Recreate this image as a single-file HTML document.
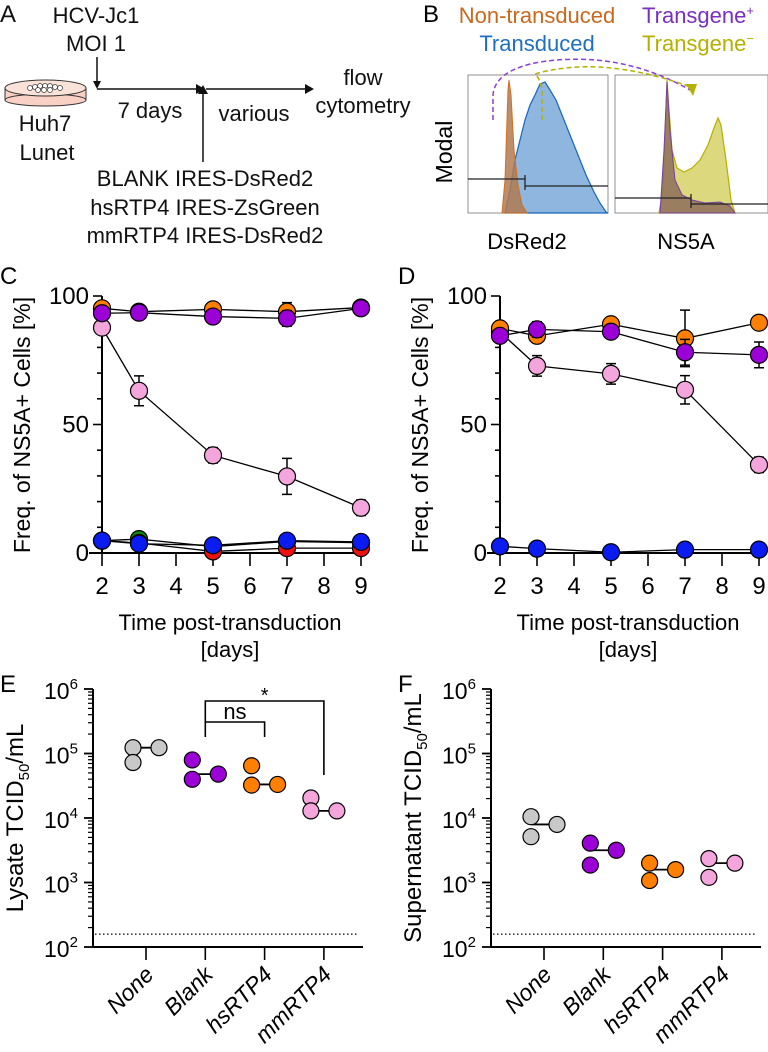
<!DOCTYPE html>
<html><head><meta charset="utf-8">
<style>
html,body{margin:0;padding:0;background:#fff;}
svg{display:block;font-family:"Liberation Sans",Arial,sans-serif;}
</style></head>
<body>
<svg id="fig" width="768" height="1052" viewBox="0 0 768 1052">
<!-- Panel A -->
<g font-size="22" fill="#111">
  <text x="0" y="22" font-size="24">A</text>
  <text x="96" y="23" text-anchor="middle">HCV-Jc1</text>
  <text x="96" y="51" text-anchor="middle">MOI 1</text>
  <line x1="97" y1="57" x2="97" y2="83" stroke="#111" stroke-width="1.5"/>
  <polygon points="93,81 101,81 97,89" fill="#111"/>
  <g>
    <rect x="5" y="88" width="81" height="12" fill="#f8d0c4" stroke="#333" stroke-width="1"/>
    <ellipse cx="45.5" cy="100" rx="40.5" ry="6" fill="#f8d0c4" stroke="#333"/>
    <ellipse cx="45.5" cy="88" rx="40.5" ry="8" fill="#fbe2d8" stroke="#333"/>
    <g fill="#fff" stroke="#333" stroke-width="0.7">
      <circle cx="30" cy="88" r="2.5"/><circle cx="35" cy="87" r="2.5"/><circle cx="40" cy="86" r="2.5"/><circle cx="45" cy="86" r="2.5"/><circle cx="50" cy="86" r="2.5"/><circle cx="55" cy="87" r="2.5"/><circle cx="60" cy="88" r="2.5"/>
      <circle cx="38" cy="90" r="2.5"/><circle cx="44" cy="90" r="2.5"/><circle cx="50" cy="90" r="2.5"/>
    </g>
  </g>
  <line x1="97" y1="89" x2="197" y2="89" stroke="#111" stroke-width="1.5"/>
  <polygon points="196,84 205,89 196,94" fill="#111"/>
  <line x1="206" y1="89" x2="306" y2="89" stroke="#111" stroke-width="1.5"/>
  <polygon points="305,84 314,89 305,94" fill="#111"/>
  <line x1="203" y1="162" x2="203" y2="92" stroke="#111" stroke-width="1.5"/>
  <polygon points="198,94 208,94 203,85" fill="#111"/>
  <text x="150" y="118" text-anchor="middle">7 days</text>
  <text x="254" y="121" text-anchor="middle">various</text>
  <text x="363" y="85" text-anchor="middle">flow</text>
  <text x="363" y="113" text-anchor="middle">cytometry</text>
  <text x="45" y="131" text-anchor="middle">Huh7</text>
  <text x="47" y="160" text-anchor="middle">Lunet</text>
  <text x="205" y="186" text-anchor="middle">BLANK IRES-DsRed2</text>
  <text x="205" y="215" text-anchor="middle">hsRTP4 IRES-ZsGreen</text>
  <text x="205" y="243" text-anchor="middle">mmRTP4 IRES-DsRed2</text>
</g>
<!-- Panel B -->
<g>
  <text x="423" y="22" font-size="24">B</text>
  <text x="537" y="23" font-size="22" text-anchor="middle" fill="#c8691e">Non-transduced</text>
  <text x="537" y="51" font-size="22" text-anchor="middle" fill="#1f6fc0">Transduced</text>
  <text x="698" y="23" font-size="22" text-anchor="middle" fill="#7a2fc0">Transgene<tspan dy="-8" font-size="13">+</tspan></text>
  <text x="698" y="51" font-size="22" text-anchor="middle" fill="#b5b000">Transgene<tspan dy="-8" font-size="13">−</tspan></text>
  <text transform="translate(452,152) rotate(-90)" font-size="23" text-anchor="middle">Modal</text>
  <g>
    <rect x="468" y="75" width="140" height="138" fill="#fff" stroke="#777" stroke-width="0.8"/>
    <path d="M505,213 L510,190 L515,160 L520,140 L525,120 L530,105 L535,95 L540,84 L545,82 L550,90 L556,100 L562,115 L570,135 L578,155 L586,175 L594,192 L600,203 L606,212 L608,213 Z" fill="#8fb6de" stroke="#1565c0" stroke-width="1.2"/>
    <path d="M502,213 L505,180 L508,90 L509,80 L511,95 L514,150 L518,185 L522,205 L527,213 Z" fill="#b07a52" fill-opacity="0.85" stroke="#d07020" stroke-width="1"/>
    <line x1="468" y1="179" x2="525" y2="179" stroke="#222" stroke-width="1.3"/>
    <line x1="525" y1="175" x2="525" y2="190" stroke="#222" stroke-width="1.3"/>
    <line x1="525" y1="186" x2="608" y2="186" stroke="#222" stroke-width="1.3"/>
    <text x="527" y="249" font-size="22" text-anchor="middle">DsRed2</text>
  </g>
  <g>
    <rect x="615" y="75" width="153" height="138" fill="#fff" stroke="#777" stroke-width="0.8"/>
    <path d="M659,213 L663,190 L666,110 L667,80 L669,110 L672,150 L677,168 L684,172 L692,168 L700,160 L708,145 L714,128 L718,118 L721,125 L726,160 L731,200 L735,213 Z" fill="#d8d470" fill-opacity="0.9" stroke="#b5b000" stroke-width="1.2"/>
    <path d="M660,213 L664,150 L667,82 L670,130 L675,180 L682,195 L692,200 L705,203 L720,202 L730,206 L735,213 Z" fill="#8e6e5a" fill-opacity="0.85" stroke="#7a3fa0" stroke-width="1"/>
    <line x1="615" y1="198" x2="691" y2="198" stroke="#222" stroke-width="1.3"/>
    <line x1="691" y1="194" x2="691" y2="208" stroke="#222" stroke-width="1.3"/>
    <line x1="691" y1="204" x2="768" y2="204" stroke="#222" stroke-width="1.3"/>
    <text x="686" y="249" font-size="22" text-anchor="middle">NS5A</text>
  </g>
  <path d="M493,120 L493,95 Q495,70 540,62 Q620,50 690,90" fill="none" stroke="#8a3fd0" stroke-width="1.5" stroke-dasharray="5,3"/>
  <path d="M542,120 L542,90 Q540,78 535,74 Q600,55 688,86" fill="none" stroke="#b5b000" stroke-width="1.5" stroke-dasharray="5,3"/>
  <polygon points="686,84 697,84 693,96" fill="#b5b000"/>
</g>
<g id="charts"></g>
</svg>
<script>
const NS='http://www.w3.org/2000/svg';
const root=document.getElementById('charts');
function mk(tag,attrs,parent,txt){const e=document.createElementNS(NS,tag);for(const k in attrs)e.setAttribute(k,attrs[k]);if(txt!==undefined)e.textContent=txt;(parent||root).appendChild(e);return e;}

// ---------- Time-course data (panels C, D) ----------
const days=[2,3,5,7,9];
const xTicks=[2,3,4,5,6,7,8,9];
const yTicksTC=[0,50,100];
const cOrange=[95.2,93.9,94.8,93.9,95.5];
const cPurple=[93.3,93.5,92.0,91.3,95.2];
const cPink=[87.7,63.1,38.0,29.8,17.6];
const cPinkErr=[1.5,5.8,3.0,7.0,3.0];
const cRed=[4.8,3.9,0.6,1.9,1.9];
const cGreen=[4.8,5.4,2.5,4.5,4.0];
const cBlue=[4.8,3.6,3.0,4.8,4.3];
const dOrange=[87.4,84.5,89.0,83.5,89.6];
const dOrangeErr=[2,2,1,11,1];
const dPurple=[84.5,87.0,86.1,78.1,77.1];
const dPurpleErr=[2,3,2,5,5];
const dPink=[86.0,72.8,69.7,63.5,34.3];
const dPinkErr=[2,4,4,5.5,3];
const dBlue=[2.6,1.7,0.3,1.3,1.3];

function timeCourse(ox,label,series){
  const g=mk('g',{});
  
  
  const x0=ox, x1=ox+259, yTop=296, yBot=553;
  const X=d=>x0+(d-2)/7*(x1-x0);
  const Y=v=>yBot-v/100*(yBot-yTop);
  const pl=mk('text',{x:ox-102,y:284,'font-size':24},g,label);
  
  
  mk('line',{x1:x0,y1:yTop,x2:x0,y2:yBot,stroke:'#000','stroke-width':2},g);
  mk('line',{x1:x0-13,y1:yBot,x2:x1+2,y2:yBot,stroke:'#000','stroke-width':2},g);
  for(let v=0;v<=100;v+=10){mk('line',{x1:x0-(v%50?5:9),y1:Y(v),x2:x0,y2:Y(v),stroke:'#000','stroke-width':1.6},g);}
  yTicksTC.forEach(v=>{const t=mk('text',{x:x0-13,y:Y(v)+8,'font-size':24,'text-anchor':'end'},g,String(v));
    });
  xTicks.forEach(d=>{mk('line',{x1:X(d),y1:yBot,x2:X(d),y2:yBot+13,stroke:'#000','stroke-width':1.6},g);
    const t=mk('text',{x:X(d),y:594,'font-size':24,'text-anchor':'middle'},g,String(d));
    });
  const yt=mk('text',{transform:`translate(${ox-72},425) rotate(-90)`,'font-size':23,'text-anchor':'middle'},g,'Freq. of NS5A+ Cells [%]');
  
  const xt=mk('text',{x:ox+128,y:630,'font-size':22,'text-anchor':'middle'},g,'Time post-transduction');
  
  const xt2=mk('text',{x:ox+128,y:657,'font-size':22,'text-anchor':'middle'},g,'[days]');
  
  series.forEach(s=>{
    const sg=mk('g',{},g);
    
    
    mk('polyline',{points:days.map((d,i)=>X(d)+','+Y(s.v[i])).join(' '),fill:'none',stroke:'#000','stroke-width':1.3},sg);
    if(s.e) days.forEach((d,i)=>{const e=s.e[i];if(e<1)return;
      mk('path',{d:`M${X(d)},${Y(s.v[i]+e)}V${Y(s.v[i]-e)}M${X(d)-5},${Y(s.v[i]+e)}h10M${X(d)-5},${Y(s.v[i]-e)}h10`,stroke:'#000','stroke-width':1.5,fill:'none'},sg);});
    days.forEach((d,i)=>{const c=mk('circle',{cx:X(d),cy:Y(s.v[i]),r:8.5,fill:s.c,stroke:'#000','stroke-width':1.2},sg);
      });
  });
}
timeCourse(102,'C',[
  {name:'green',v:cGreen,c:'#118811'},{name:'red',v:cRed,c:'#ee1111'},{name:'blue',v:cBlue,c:'#0a1cf0'},
  {name:'pink',v:cPink,c:'#f4a6dc',e:cPinkErr},
  {name:'orange',v:cOrange,c:'#ff7f00',e:[1,1,1,3.5,1]},{name:'purple',v:cPurple,c:'#9b00d6',e:[1,1,1,3,1]}]);
timeCourse(500,'D',[
  {name:'blue',v:dBlue,c:'#0a1cf0'},
  {name:'pink',v:dPink,c:'#f4a6dc',e:dPinkErr},
  {name:'orange',v:dOrange,c:'#ff7f00',e:dOrangeErr},{name:'purple',v:dPurple,c:'#9b00d6',e:dPurpleErr}]);

// ---------- TCID50 data (panels E, F), log10 values ----------
const groups=['None','Blank','hsRTP4','mmRTP4'];
const groupColors=['#c8c8c8','#9b00d6','#ff7f00','#f4a6dc'];
const lysateLog=[[5.09,4.86,5.09],[4.90,4.60,4.68],[4.81,4.51,4.52],[4.31,4.11,4.11]];
const lysateMedianLog=[5.09,4.68,4.52,4.11];
const superLog=[[4.02,3.71,3.90],[3.61,3.27,3.50],[3.30,3.03,3.20],[3.37,3.08,3.30]];
const superMedianLog=[3.90,3.50,3.20,3.30];
const decades=[2,3,4,5,6];
const detectionLimitLog=2.2;
const offsets=[-13,-13,13];

function tcid(ox,label,title,vals,meds,sig){
  const g=mk('g',{});
  
  
  const yTop=689,yBot=947,x0=ox,xEnd=ox+270;
  const Y=l=>yBot-(l-2)/4*(yBot-yTop);
  const X=i=>ox+53+i*59.3;
  const pl=mk('text',{x:ox-93,y:692,'font-size':24},g,label);
  
  mk('line',{x1:x0,y1:yTop,x2:x0,y2:yBot,stroke:'#000','stroke-width':2},g);
  mk('line',{x1:x0,y1:yBot,x2:xEnd,y2:yBot,stroke:'#000','stroke-width':2},g);
  for(let d=2;d<6;d++)for(let k=2;k<10;k++){const yy=Y(d+Math.log10(k));mk('line',{x1:x0-5,y1:yy,x2:x0,y2:yy,stroke:'#000','stroke-width':1.2},g);}
  decades.forEach(d=>{mk('line',{x1:x0-9,y1:Y(d),x2:x0,y2:Y(d),stroke:'#000','stroke-width':1.8},g);
    const t=mk('text',{x:x0-49,y:Y(d)+10,'font-size':23},g);
    
    mk('tspan',{},t,'10');mk('tspan',{dy:-10,'font-size':15},t,String(d));});
  mk('line',{x1:x0+2,y1:Y(detectionLimitLog),x2:xEnd-5,y2:Y(detectionLimitLog),stroke:'#000','stroke-width':1.2,'stroke-dasharray':'1.5,2.5'},g);
  const yt=mk('text',{transform:`translate(${ox-70},818) rotate(-90)`,'font-size':24,'text-anchor':'middle'},g);
  
  mk('tspan',{},yt,title+' TCID');mk('tspan',{dy:6,'font-size':15},yt,'50');mk('tspan',{dy:-6},yt,'/mL');
  groups.forEach((n,i)=>{
    mk('line',{x1:X(i),y1:yBot,x2:X(i),y2:yBot+13,stroke:'#000','stroke-width':1.6},g);
    const t=mk('text',{transform:`translate(${X(i)+9},${976}) rotate(-45)`,'font-size':23,'font-style':'italic','text-anchor':'end'},g,n);
    
    const mg=mk('g',{},g);
    mk('line',{x1:X(i)-13,y1:Y(meds[i]),x2:X(i)+13,y2:Y(meds[i]),stroke:'#000','stroke-width':1.8},mg);
    vals[i].forEach((v,j)=>{const c=mk('circle',{cx:X(i)+offsets[j],cy:Y(v),r:8,fill:groupColors[i],stroke:'#000','stroke-width':1.2},mg);
      });
  });
  if(sig){
    const b=mk('g',{},g);
    mk('path',{d:`M${X(1)},737V722H${X(2)}V737`,fill:'none',stroke:'#000','stroke-width':1.6},b);
    mk('path',{d:`M${X(1)},722V701H${X(3)}V775`,fill:'none',stroke:'#000','stroke-width':1.6},b);
    const ns=mk('text',{x:(X(1)+X(2))/2,y:719,'font-size':22,'text-anchor':'middle'},b,'ns');
    
    const st=mk('text',{x:(X(1)+X(3))/2,y:702,'font-size':20,'text-anchor':'middle'},b,'*');
    
  }
}
tcid(93,'E','Lysate',lysateLog,lysateMedianLog,true);
tcid(491,'F','Supernatant',superLog,superMedianLog,false);
</script>
</body></html>
